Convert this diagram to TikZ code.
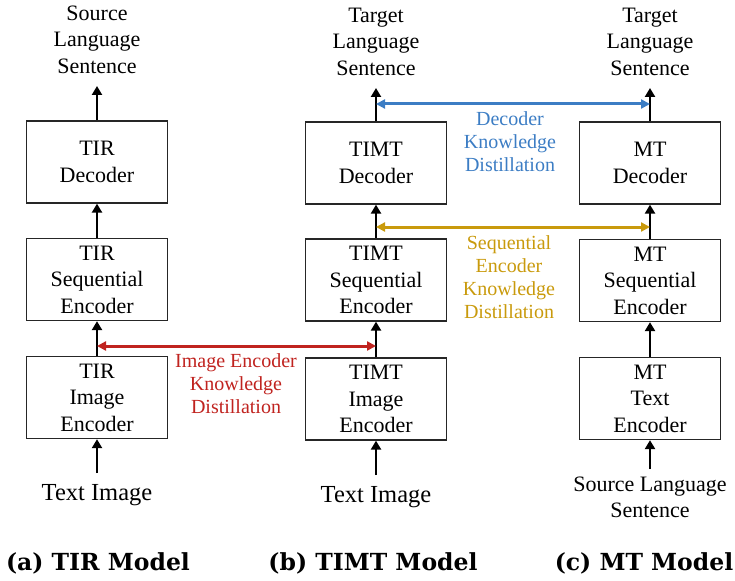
\documentclass[tikz,border=0pt]{standalone}
\usepackage{fontspec}
\setmainfont{Liberation Serif}
\newfontfamily\capfont{DejaVu Serif}
\usetikzlibrary{arrows.meta}
\definecolor{kdred}{HTML}{C0231F}
\definecolor{kdblue}{HTML}{3C7DC4}
\definecolor{kdgold}{HTML}{C99A0C}
\begin{document}
\begin{tikzpicture}[x=1pt,y=-1pt,
  blk/.style={draw=black!85,line width=1.3pt,minimum width=141pt,minimum height=82pt,align=center,inner sep=0pt,font=\fontsize{22}{26.5}\selectfont},
  lbl/.style={align=center,inner sep=0pt,font=\fontsize{22}{26.5}\selectfont},
  biglbl/.style={align=center,inner sep=0pt,font=\fontsize{24.5}{28}\selectfont},
  kd/.style={align=center,inner sep=0pt,font=\fontsize{20}{23}\selectfont},
  captxt/.style={inner sep=0pt,anchor=base,font=\capfont\bfseries\fontsize{23.5}{28}\selectfont},
  up/.style={line width=2.8pt,-{Triangle[width=10pt,length=9pt]}},
  both/.style={line width=3pt,{Triangle[width=9pt,length=9pt]}-{Triangle[width=9pt,length=9pt]}}
]
\useasboundingbox (0,0) rectangle (735,580);
% column (a)
\node[blk] (adec) at (97,162) {TIR\\Decoder};
\node[blk] (aseq) at (97,279.5) {TIR\\Sequential\\Encoder};
\node[blk] (aimg) at (97,397.5) {TIR\\Image\\Encoder};
\node[lbl] (aout) at (97,39.5) {Source\\Language\\Sentence};
\node[biglbl] (ain) at (97,495) {Text Image};
\coordinate (atop) at (97,86);
\coordinate (abot) at (97,473);
% column (b)
\node[blk] (bdec) at (376,163) {TIMT\\Decoder};
\node[blk] (bseq) at (376,280) {TIMT\\Sequential\\Encoder};
\node[blk] (bimg) at (376,399) {TIMT\\Image\\Encoder};
\node[lbl] (bout) at (376,41.5) {Target\\Language\\Sentence};
\node[biglbl] (bin) at (376,497) {Text Image};
\coordinate (btop) at (376,88);
\coordinate (bbot) at (376,475);
% column (c)
\node[blk] (cdec) at (650,163) {MT\\Decoder};
\node[blk] (cseq) at (650,280.5) {MT\\Sequential\\Encoder};
\node[blk] (cimg) at (650,398.5) {MT\\Text\\Encoder};
\node[lbl] (cout) at (650,41.5) {Target\\Language\\Sentence};
\node[lbl] (cin) at (650,497.5) {Source Language\\Sentence};
\coordinate (ctop) at (650,88);
\coordinate (cbot) at (650,469);
% vertical arrows
\draw[up] (adec.north) -- (atop);
\draw[up] (aseq.north) -- (adec.south);
\draw[up] (aimg.north) -- (aseq.south);
\draw[up] (abot) -- (aimg.south);
\draw[up] (bdec.north) -- (btop);
\draw[up] (bseq.north) -- (bdec.south);
\draw[up] (bimg.north) -- (bseq.south);
\draw[up] (bbot) -- (bimg.south);
\draw[up] (cdec.north) -- (ctop);
\draw[up] (cseq.north) -- (cdec.south);
\draw[up] (cimg.north) -- (cseq.south);
\draw[up] (cbot) -- (cimg.south);
% distillation arrows
\coordinate (r1) at (97,346);
\coordinate (r2) at (376,346);
\coordinate (g1) at (376,227);
\coordinate (g2) at (650,227);
\coordinate (u1) at (376,104);
\coordinate (u2) at (650,104);
\draw[both,kdred] (r1) -- (r2);
\draw[both,kdgold] (g1) -- (g2);
\draw[both,kdblue] (u1) -- (u2);
\node[kd,text=kdred] (rlab) at (236,383.5) {Image Encoder\\Knowledge\\Distillation};
\node[kd,text=kdgold] (glab) at (509,277) {Sequential\\Encoder\\Knowledge\\Distillation};
\node[kd,text=kdblue] (ulab) at (510,142) {Decoder\\Knowledge\\Distillation};
% captions
\node[captxt] (capa) at (98,570) {(a) TIR Model};
\node[captxt] (capb) at (373,570) {(b) TIMT Model};
\node[captxt] (capc) at (644,570) {(c) MT Model};
\end{tikzpicture}
\end{document}
